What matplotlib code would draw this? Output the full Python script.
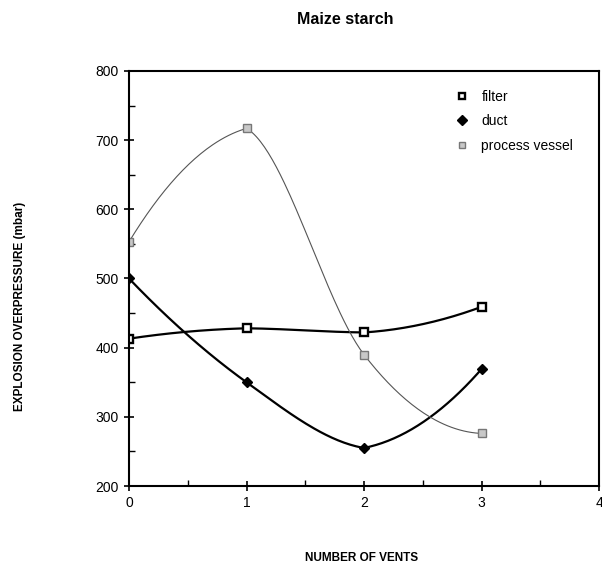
import numpy as np
import matplotlib
matplotlib.use("Agg")
import matplotlib.pyplot as plt
from matplotlib.ticker import MultipleLocator

plt.rcParams['font.family'] = ['Liberation Sans', 'DejaVu Sans']

# data
vents = [0, 1, 2, 3]
filter_p = [413, 428, 422, 459]
duct_p = [500, 350, 255, 369]
vessel_p = [553, 717, 390, 276]


def smooth(x, y, n=60, damp=0.3):
    # piecewise hermite; at peaks/dips the tangent is damped per side
    # so the curve turns sharply at the point like the old plot does
    x = np.asarray(x, float)
    y = np.asarray(y, float)
    h = np.diff(x)
    d = np.diff(y) / h
    npts = len(x)
    left = np.zeros(npts)
    right = np.zeros(npts)
    for k in range(1, npts - 1):
        if d[k - 1] * d[k] > 0:
            left[k] = right[k] = (d[k - 1] + d[k]) / 2
        else:
            left[k] = damp * d[k - 1]
            right[k] = damp * d[k]
    right[0] = 2 * d[0] - left[1]
    left[-1] = 2 * d[-1] - right[-2]
    xs, ys = [], []
    for k in range(npts - 1):
        t = np.linspace(0, 1, n)
        h00 = 2 * t**3 - 3 * t**2 + 1
        h10 = t**3 - 2 * t**2 + t
        h01 = -2 * t**3 + 3 * t**2
        h11 = t**3 - t**2
        xs.append(x[k] + t * h[k])
        ys.append(h00 * y[k] + h10 * h[k] * right[k] + h01 * y[k + 1]
                  + h11 * h[k] * left[k + 1])
    return np.concatenate(xs), np.concatenate(ys)


fig = plt.figure(figsize=(6.02, 5.65), dpi=100)
ax = fig.add_axes([129 / 602, 1 - 486 / 565, 470 / 602, 415 / 565])

xs, ys = smooth(vents, filter_p)
ax.plot(xs, ys, color='black', lw=1.6)
xs, ys = smooth(vents, duct_p)
ax.plot(xs, ys, color='black', lw=1.6)
xs, ys = smooth(vents, vessel_p)
ax.plot(xs, ys, color='#555555', lw=0.8)

ax.plot(vents, filter_p, ls='none', marker='s', ms=5.5, mfc='white',
        mec='black', mew=1.7, label='filter')
ax.plot(vents, duct_p, ls='none', marker='D', ms=5.5, color='black',
        label='duct')
ax.plot(vents, vessel_p, ls='none', marker='s', ms=5.5, mfc='#c8c8c8',
        mec='#777777', mew=1.0, label='process vessel')

ax.set_xlim(0, 4)
ax.set_ylim(200, 800)
ax.xaxis.set_major_locator(MultipleLocator(1))
ax.xaxis.set_minor_locator(MultipleLocator(0.5))
ax.yaxis.set_major_locator(MultipleLocator(100))
ax.yaxis.set_minor_locator(MultipleLocator(50))
ax.tick_params(which='major', direction='inout', length=7, width=1.2,
               labelsize=10, pad=4)
ax.tick_params(which='minor', direction='in', length=4, width=1.0)
for s in ax.spines.values():
    s.set_linewidth(1.5)

ax.legend(loc='upper left', frameon=False, fontsize=10, handletextpad=0.6,
          handlelength=1.6, labelspacing=0.75, bbox_to_anchor=(0.658, 0.985),
          markerscale=0.9)

fig.text(345 / 602, 1 - 20 / 565, 'Maize starch', ha='center', va='center',
         fontsize=11.5, fontweight='bold')
fig.text(20 / 602, 1 - 306 / 565, 'EXPLOSION OVERPRESSURE (mbar)', rotation=90,
         ha='center', va='center', fontsize=8.5, fontweight='bold')
fig.text(362 / 602, 1 - 558 / 565, 'NUMBER OF VENTS', ha='center', va='center',
         fontsize=8.5, fontweight='bold')

fig.savefig('out.png', dpi=100)
